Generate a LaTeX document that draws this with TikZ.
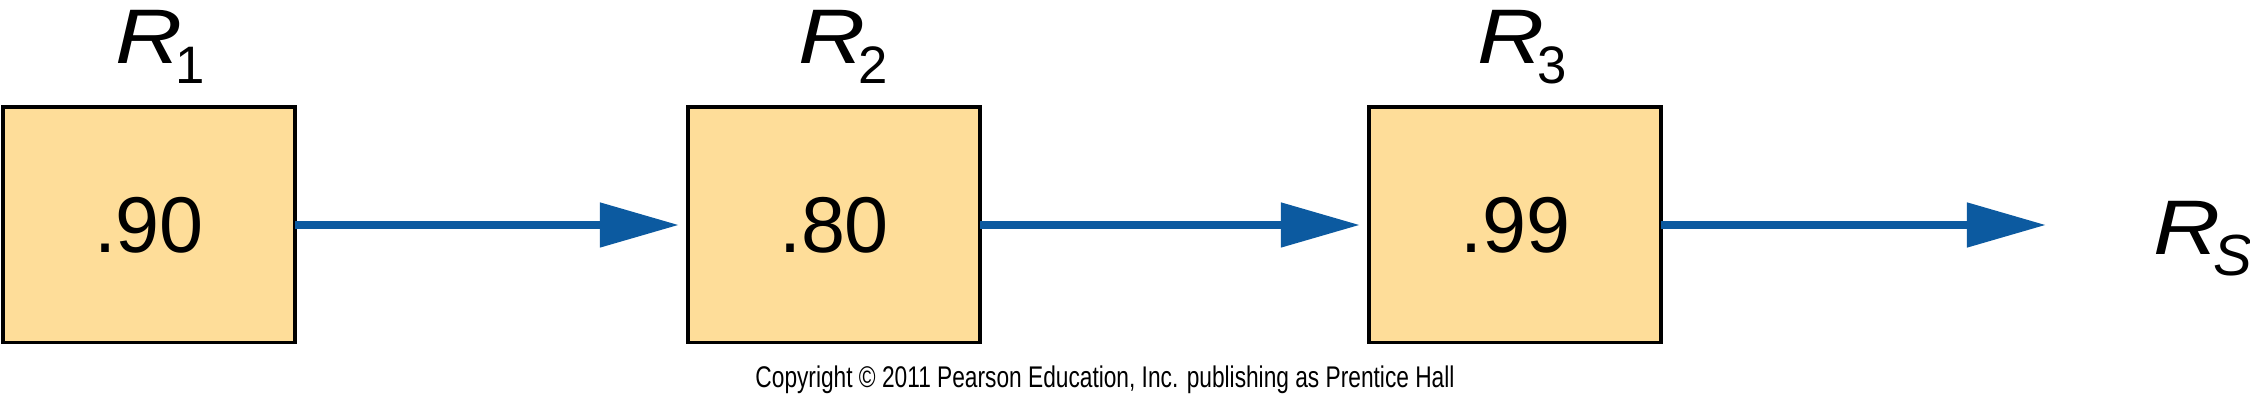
\documentclass[tikz,border=0pt]{standalone}
\usepackage{fontspec}
\setmainfont{Liberation Sans}
\usetikzlibrary{arrows.meta}
\definecolor{boxfill}{RGB}{254,221,153}
\definecolor{arrowblue}{RGB}{12,90,160}
\newcommand{\bigR}{\scalebox{1.2}[1]{\textit{R}}}
\newcommand{\sublbl}[2][15]{\kern-0.07cm\raisebox{-0.2cm}{\fontsize{#1}{#1}\selectfont #2}}
\begin{document}
\begin{tikzpicture}[x=0.01cm,y=-0.01cm,
  rbox/.style={draw=black, line width=1.1pt, fill=boxfill, minimum width=2.92cm,
    minimum height=2.35cm, inner sep=0pt, outer sep=0pt, font=\fontsize{22.5}{22.5}\selectfont},
  flow/.style={draw=arrowblue, line width=0.08cm, -{Triangle[length=0.79cm,width=0.43cm]}},
  rlabel/.style={font=\fontsize{22}{22}\selectfont, inner sep=0pt, anchor=base}]
\useasboundingbox (0,0) rectangle (2250,407);
\node[rbox] (b1) at (149,225) {\raisebox{-0.03cm}{.90}};
\node[rbox] (b2) at (834,225) {\raisebox{-0.03cm}{.80}};
\node[rbox] (b3) at (1515,225) {\raisebox{-0.03cm}{.99}};
\node[rlabel] (l1) at (160,64) {\bigR\sublbl{1}};
\node[rlabel] (l2) at (843,64) {\bigR\sublbl{2}};
\node[rlabel] (l3) at (1522,64) {\bigR\sublbl{3}};
\node[rlabel, anchor=base west] (ls) at (2153,255) {\bigR\sublbl[16.5]{\textit{S}}};
\coordinate (end) at (2046,225);
\draw[flow, shorten >=0.09cm] (b1.east) -- (b2.west);
\draw[flow, shorten >=0.09cm] (b2.east) -- (b3.west);
\draw[flow] (b3.east) -- (end);
\node[anchor=base, inner sep=0pt, font=\fontsize{8.5}{10}\selectfont] (copy) at (1105,388)
  {\scalebox{0.76}[1]{Copyright © 2011 Pearson Education, Inc. publishing as Prentice Hall}};
\end{tikzpicture}
\end{document}
